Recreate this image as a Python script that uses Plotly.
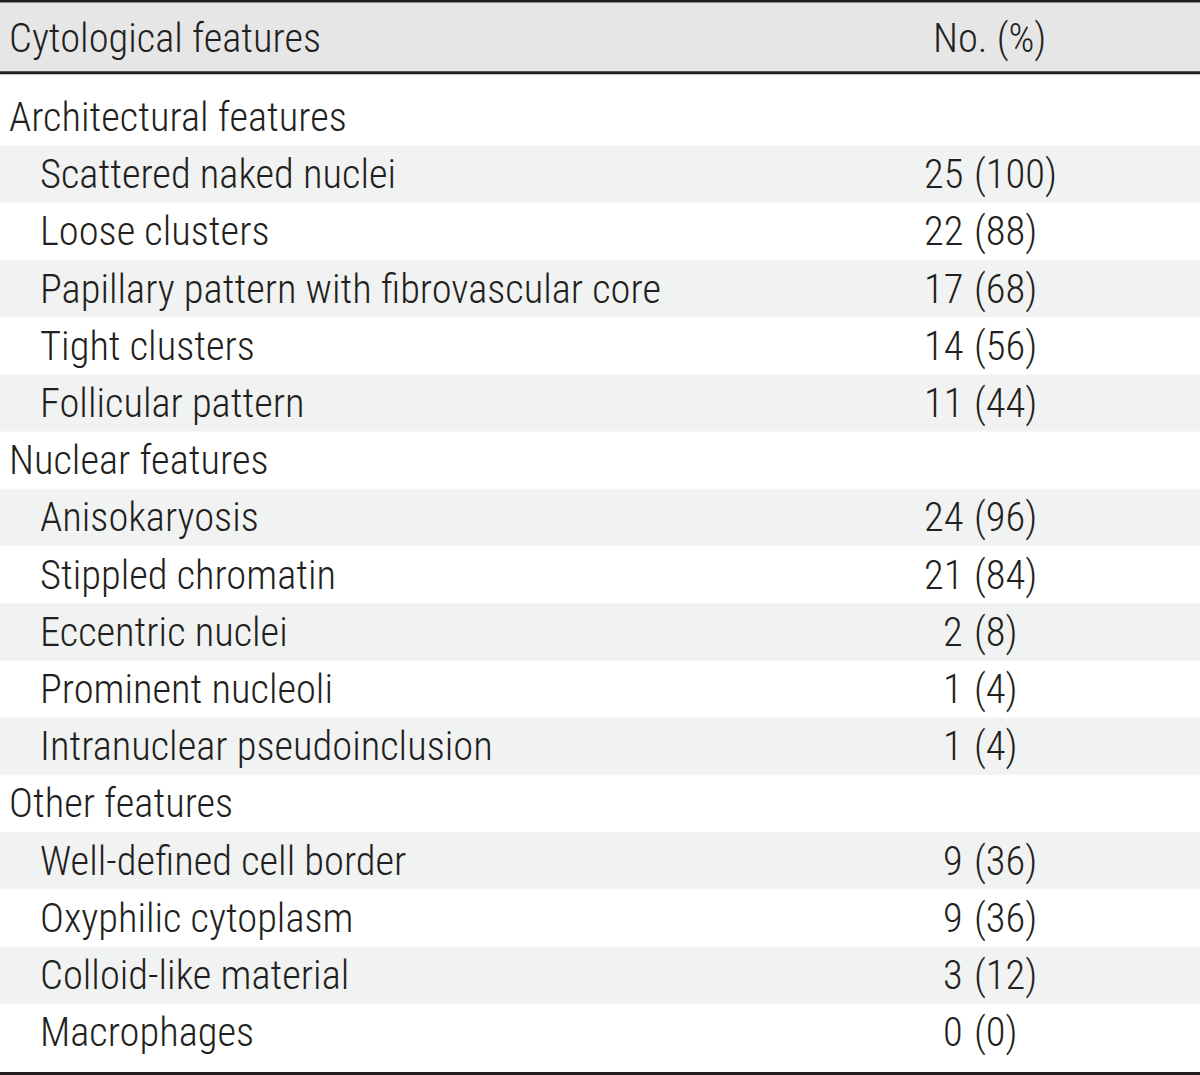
import plotly.graph_objects as go

# ---- data ----
header_labels = ["Cytological features", "No. (%)"]
group_names = ["Architectural features", "Nuclear features", "Other features"]
group_items = [
    ["Scattered naked nuclei", "Loose clusters", "Papillary pattern with fibrovascular core",
     "Tight clusters", "Follicular pattern"],
    ["Anisokaryosis", "Stippled chromatin", "Eccentric nuclei", "Prominent nucleoli",
     "Intranuclear pseudoinclusion"],
    ["Well-defined cell border", "Oxyphilic cytoplasm", "Colloid-like material", "Macrophages"],
]
group_counts = [
    [25, 22, 17, 14, 11],
    [24, 21, 2, 1, 1],
    [9, 9, 3, 0],
]
group_percents = [
    [100, 88, 68, 56, 44],
    [96, 84, 8, 4, 4],
    [36, 36, 12, 0],
]

# ---- layout constants ----
W, H = 1200, 1075
FONT = "Roboto Condensed, Liberation Sans Narrow, Arial Narrow, sans-serif"
FS = 40.5
WEIGHT = 300
TXT = "#231f20"
HEAD_BG = "#e6e6e6"
ROW_BG = "#f1f2f2"
ROW_H = 57.2
FIRST_CENTER = 117.0
X_GROUP = 7
X_ITEM = 38
X_COUNT_RIGHT = 965
X_PCT_LEFT = 972
HEADER_CENTER = 38

fig = go.Figure()
shapes = []
annotations = []


def txt(x, y, s, anchor):
    return dict(x=x, y=y, text=s, xanchor=anchor, yanchor="middle", showarrow=False,
                font=dict(family=FONT, size=FS, color=TXT, weight=WEIGHT))


# header background and lines
shapes.append(dict(type="rect", x0=0, x1=W, y0=2.5, y1=71.5, fillcolor=HEAD_BG,
                   line=dict(width=0), layer="below"))
annotations.append(txt(X_GROUP, HEADER_CENTER, header_labels[0], "left"))
annotations.append(txt(989, HEADER_CENTER, header_labels[1], "center"))

row = 0
for g, name in enumerate(group_names):
    yc = FIRST_CENTER + ROW_H * row
    annotations.append(txt(X_GROUP, yc, name, "left"))
    row += 1
    for i, item in enumerate(group_items[g]):
        yc = FIRST_CENTER + ROW_H * row
        if i % 2 == 0:
            shapes.append(dict(type="rect", x0=0, x1=W, y0=yc - ROW_H / 2, y1=yc + ROW_H / 2,
                               fillcolor=ROW_BG, line=dict(width=0), layer="below"))
        annotations.append(txt(X_ITEM, yc, item, "left"))
        annotations.append(txt(X_COUNT_RIGHT, yc, str(group_counts[g][i]), "right"))
        annotations.append(txt(X_PCT_LEFT, yc, "(%d)" % group_percents[g][i], "left"))
        row += 1

# rules
for y, w in [(1.3, 2.6), (72.8, 3), (1073.5, 3)]:
    shapes.append(dict(type="line", x0=0, x1=W, y0=y, y1=y, line=dict(color=TXT, width=w)))

fig.update_layout(
    width=W, height=H,
    margin=dict(l=0, r=0, t=0, b=0),
    paper_bgcolor="white", plot_bgcolor="white",
    xaxis=dict(range=[0, W], visible=False, fixedrange=True),
    yaxis=dict(range=[H, 0], visible=False, fixedrange=True),
    shapes=shapes,
    annotations=annotations,
    showlegend=False,
)

fig.write_html("out.html", config={"displayModeBar": False},
               post_script="document.body.style.margin='0';")
